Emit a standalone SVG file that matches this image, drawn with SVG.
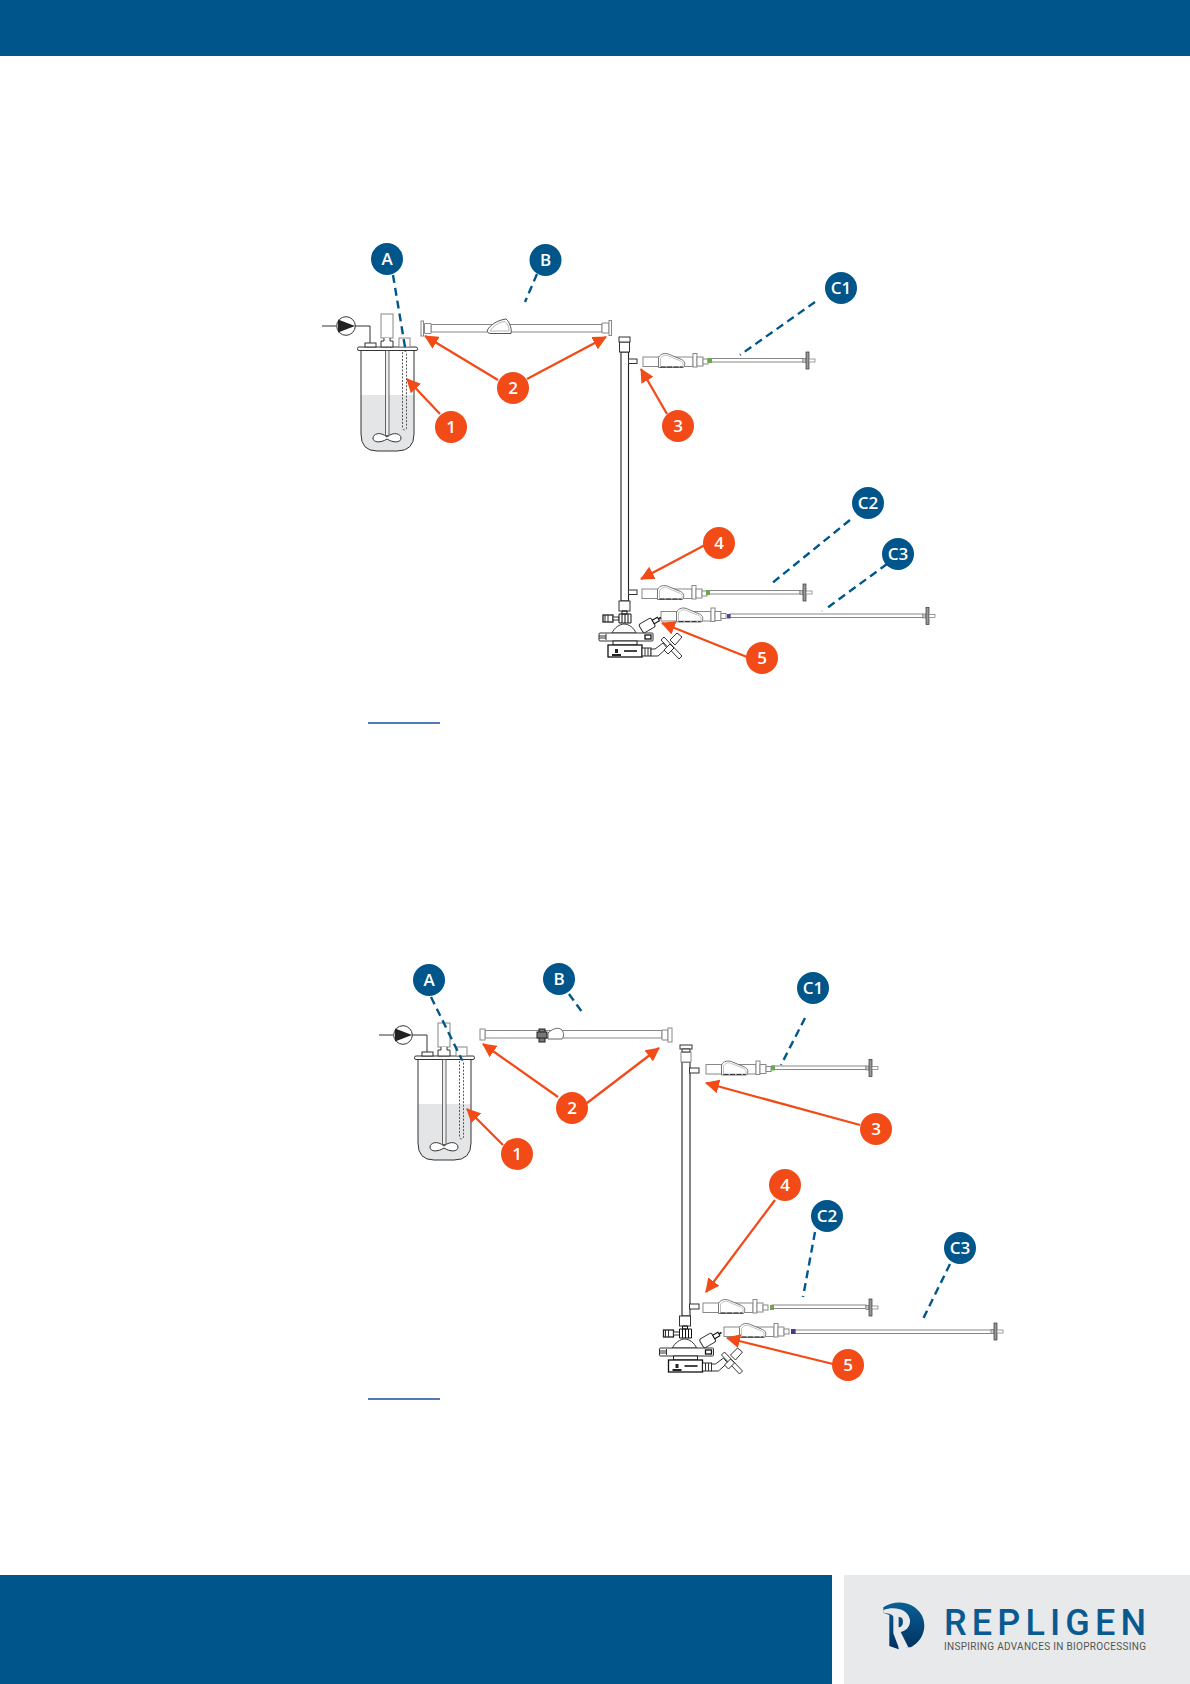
<svg xmlns="http://www.w3.org/2000/svg" width="1190" height="1684" viewBox="0 0 1190 1684">
<style>
.band{fill:#00558a}
.b text,.o text{font-family:"Open Sans","Liberation Sans",sans-serif;font-weight:600;fill:#fff;text-anchor:middle}
.b circle{fill:#00558a}
.o circle{fill:#f24b17}
.dash{fill:none;stroke:#00578a;stroke-width:2.400;stroke-dasharray:8 5}
.arr{fill:none;stroke:#f24b17;stroke-width:2.300;marker-end:url(#ah)}
.ln{fill:#fff;stroke:#333;stroke-width:1}
.lnn{fill:none;stroke:#333;stroke-width:1}
.lt{fill:#fff;stroke:#888;stroke-width:1}
.ltn{fill:none;stroke:#777;stroke-width:1}
.dk{fill:#222}
.ul{stroke:#1a4fa0;stroke-width:1.300}
</style>
<defs>
<marker id="ah" markerUnits="userSpaceOnUse" markerWidth="15" markerHeight="14" refX="13" refY="7" orient="auto"><path d="M0,0L14,7L0,14z" fill="#f24b17"/></marker>
<linearGradient id="lg" x1="0" y1="0" x2="0" y2="1"><stop offset="0" stop-color="#0a5f96"/><stop offset="1" stop-color="#00305f"/></linearGradient>
<g id="reactor">
<path d="M361,395H414V434Q414,451 397,451H377Q361,451 361,434Z" fill="#e4e5e6"/>
<path d="M361,349V434Q361,451 377,451H397Q414,451 414,434V349" class="lnn"/>
<rect x="357.500" y="347" width="60" height="3.500" rx="1.500" class="ln"/>
<rect x="365" y="343" width="11" height="4" class="ln"/>
<path d="M322,326H336M355,326H370V343" class="lnn"/>
<circle cx="346" cy="326" r="9.300" class="ln"/>
<path d="M338,319.500L355,326L338,332.500Z" class="dk"/>
<rect x="381" y="314" width="12" height="24" class="lt"/>
<path d="M384,338V341H381V347H393V341H390V338" class="ln"/>
<rect x="399" y="338" width="11" height="9" class="lt"/>
<rect x="385.500" y="350.500" width="3.500" height="85" fill="#eee" stroke="#444" stroke-width=".8"/>
<rect x="402.500" y="351" width="4" height="79" rx="2" fill="none" stroke="#444" stroke-width=".9" stroke-dasharray="2 1.500"/>
<path d="M387,437C380,431 373,434 373,438C373,443 381,443 387,439C393,443 401,443 401,438C401,434 394,431 387,437Z" class="ln" stroke-width=".8"/>
</g>
<g id="clampshape">
<path d="M0,6V-4C2,-8 7,-9 11,-7L23,-2C27,0 27,3 25,6Z" fill="#fff" stroke="#666" stroke-width=".9"/>
<path d="M2,5V-3C4,-6 7,-7 10,-5.500L22,-.5C25,1 25,3 24,5Z" fill="none" stroke="#999" stroke-width=".6"/>
<path d="M2,5.500H24" fill="none" stroke="#333" stroke-width="1" stroke-dasharray="5 1.500"/>
</g>
<g id="head">
<rect x="0" y="-4.500" width="50" height="9.500" class="lt"/>
<use href="#clampshape" x="15.500"/>
<rect x="50" y="-8" width="4" height="13.500" class="lt"/>
<rect x="54" y="-4.500" width="6" height="9" class="lt"/>
<rect x="60" y="-2.500" width="5" height="5" class="lt"/>
</g>
<g id="tip">
<rect x="-3" y="-2" width="3" height="4" fill="#ccc" stroke="#777" stroke-width=".7"/>
<rect x="0" y="-8.500" width="3" height="17" fill="#999" stroke="#333" stroke-width=".7"/>
<rect x="3" y="-1.500" width="6" height="3" fill="#fff" stroke="#777" stroke-width=".7"/>
</g>
<g id="base">
<rect x="619" y="601" width="11" height="10" class="ln"/>
<rect x="603" y="615" width="10" height="7" fill="#fff" stroke="#222" stroke-width="1.300"/>
<path d="M605,615v7M608,615v7" class="lnn"/>
<rect x="613" y="617" width="6" height="3" class="ln"/>
<path d="M619,614H631V623H619Z" fill="#fff" stroke="#111"/>
<path d="M622,611h5v3h-5zM622,614v9M625,614v9M628,614v9" fill="none" stroke="#111"/>
<path d="M612,633C614,628 620,624 624,624C629,624 634,628 636,633Z" class="ln"/>
<rect x="599" y="633" width="54" height="8" rx="1" class="ln"/>
<path d="M606,634v6M599,636h7M599,638h7" class="lnn"/>
<rect x="645" y="635" width="6" height="4" fill="#fff" stroke="#111" stroke-width="1.300"/>
<rect x="613" y="641" width="24" height="4" fill="#fff" stroke="#222"/>
<rect x="608" y="645" width="34" height="12" fill="#fff" stroke="#111" stroke-width="1.300"/>
<rect x="612" y="654" width="9" height="2" class="dk"/>
<rect x="615" y="649" width="3" height="4" class="dk"/>
<rect x="624" y="650" width="13" height="2" fill="#444"/>
<g transform="rotate(-30 648 625)">
<rect x="640" y="620" width="14" height="10" rx="2" class="ln"/>
<rect x="654" y="623" width="6" height="4" fill="#fff" stroke="#111"/>
<rect x="660" y="624" width="3" height="2" class="dk"/>
</g>
<rect x="642" y="648" width="9" height="8" fill="#fff" stroke="#222"/>
<path d="M645,648v8M648,648v8" class="lnn"/>
<path d="M651,649H655L663,643L667,648L658,656H651Z" class="ln"/>
<path d="M661,640L679,659L682,656L664,637Z" class="ln"/>
<path d="M664,650L670,644L674,648L668,654Z" class="ln"/>
<path d="M670,640L677,633L682,637L675,645Z" class="ln"/>
</g>
</defs>

<rect id="header" class="band" x="0" y="0" width="1190" height="56"/>
<rect id="footer" class="band" x="0" y="1575" width="832" height="109"/>

<g id="reactor-1"><use href="#reactor"/></g>
<g id="tube-b-1">
<rect x="431" y="324.500" width="171" height="7.500" class="lt"/>
<path d="M431,323.500H424.500V333.500H431Z" class="lt" stroke="#555"/>
<rect x="421" y="321" width="2.500" height="15" class="lt"/>
<path d="M602,323H609V333H602Z" class="lt"/>
<rect x="609" y="320.500" width="2.500" height="15" class="lt"/>
<path d="M487.500,330C490,325 498,320 506,319C510,322 512,330 511,333.500H491C488,333.500 487,332 487.500,330Z" fill="#fff" stroke="#555"/>
<path d="M490,331C493,326 499,322 505,321.500C508,324 509,328 509,331Z" fill="none" stroke="#999" stroke-width=".7"/>
</g>
<g id="column-1">
<rect x="621" y="352" width="7.500" height="249" fill="#fff" stroke="#222" stroke-width="1.100"/>
<rect x="619.500" y="342" width="10" height="10" class="ln"/>
<rect x="619" y="337" width="11" height="5" class="ln"/>
<rect x="628.500" y="359" width="8.500" height="4.500" class="ln"/>
<rect x="628.500" y="590" width="8.500" height="4.500" class="ln"/>
</g>
<g id="c1-1"><use href="#head" x="643" y="361.500"/><rect x="708" y="358.500" width="95" height="3.500" class="lt" stroke="#555"/><rect x="708" y="358" width="4" height="5" fill="#6ba84a"/><use href="#tip" x="806" y="360.500"/></g>
<g id="c2-1"><use href="#head" x="642" y="593.500"/><rect x="707" y="590.500" width="93" height="3.500" class="lt" stroke="#555"/><rect x="706" y="590" width="4" height="5" fill="#6ba84a"/><use href="#tip" x="803" y="592.500"/></g>
<g id="c3-1"><use href="#head" x="661" y="616"/><rect x="730" y="614" width="193" height="3.500" class="lt" stroke="#555"/><rect x="727" y="614" width="3.500" height="4.500" fill="#47479a"/><use href="#tip" x="926" y="616"/><circle cx="822" cy="611" r=".5" fill="#666"/></g>
<g id="base-1"><use href="#base"/></g>

<g id="reactor-2"><use href="#reactor" x="57" y="709"/></g>
<g id="tube-b-2">
<rect x="485" y="1030.500" width="177" height="7.500" class="lt"/>
<rect x="480" y="1029" width="5" height="11" class="lt"/>
<path d="M662,1030H668V1040H662Z" class="lt"/>
<rect x="668" y="1028" width="4" height="14" class="lt"/>
<path d="M548,1039V1033C553,1028 559,1027 562,1030C564,1033 564,1037 562,1039H550Z" fill="#fff" stroke="#666"/>
<rect x="539" y="1029" width="6" height="13" fill="#777" stroke="#222"/>
<rect x="537" y="1032" width="10" height="6" fill="#777" stroke="#222"/>
</g>
<g id="column-2">
<rect x="682" y="1062" width="8" height="254" fill="#fff" stroke="#222" stroke-width="1.100"/>
<rect x="681" y="1052" width="10" height="10" class="lt"/>
<rect x="680" y="1045" width="12" height="4" class="ln"/>
<path d="M682,1049h8v3h-8z" class="ln"/>
<rect x="689.500" y="1068" width="9.500" height="5" class="ln"/>
<rect x="689.500" y="1304" width="9.500" height="5" class="ln"/>
</g>
<g id="c1-2"><use href="#head" x="706" y="1069"/><rect x="772" y="1066" width="94" height="3.500" class="lt" stroke="#555"/><rect x="771" y="1065.500" width="4" height="5" fill="#6ba84a"/><use href="#tip" x="869" y="1068"/></g>
<g id="c2-2"><use href="#head" x="703" y="1307.500"/><rect x="772" y="1305" width="94" height="3.500" class="lt" stroke="#555"/><rect x="770" y="1305" width="4" height="5" fill="#6ba84a"/><use href="#tip" x="869" y="1307.500"/></g>
<g id="c3-2"><use href="#head" x="724" y="1331.500"/><rect x="795" y="1330" width="197" height="3.500" class="lt" stroke="#555"/><rect x="791" y="1329" width="4.500" height="5" fill="#3c3c92"/><use href="#tip" x="994" y="1331.500"/></g>
<g id="base-2"><use href="#base" x="60.500" y="715"/></g>

<g id="connectors">
<path class="dash" d="M393,275L405,347"/>
<path class="dash" d="M537,274L525,302"/>
<path class="dash" d="M815,302L740,355"/>
<path class="dash" d="M850,520L771,584"/>
<path class="dash" d="M887,564L827,608"/>
<path class="arr" d="M440,414L407,379"/>
<path class="arr" d="M498,380L425,336"/>
<path class="arr" d="M527,379L606,337"/>
<path class="arr" d="M667,414L641,369"/>
<path class="arr" d="M705,545L641,579"/>
<path class="arr" d="M747,657L662,623"/>
<path class="dash" d="M431,997L462,1060"/>
<path class="dash" d="M569,994L582,1012"/>
<path class="dash" d="M805,1018L781,1065"/>
<path class="dash" d="M815,1232L803,1297"/>
<path class="dash" d="M950,1264L922,1321"/>
<path class="arr" d="M503,1145L467,1109"/>
<path class="arr" d="M558,1097L483,1044"/>
<path class="arr" d="M587,1103L659,1048"/>
<path class="arr" d="M860,1125L706,1083"/>
<path class="arr" d="M775,1200L706,1292"/>
<path class="arr" d="M833,1364L727,1338"/>
</g>

<g id="A-1" class="b"><circle cx="387" cy="259" r="16"/><text x="387" y="265" font-size="17">A</text></g>
<g id="B-1" class="b"><circle cx="545.500" cy="260" r="16"/><text x="545.500" y="266" font-size="17">B</text></g>
<g id="C1-1" class="b"><circle cx="841" cy="288" r="16"/><text x="841" y="294" font-size="17">C1</text></g>
<g id="C2-1" class="b"><circle cx="868" cy="503" r="16"/><text x="868" y="509" font-size="17">C2</text></g>
<g id="C3-1" class="b"><circle cx="898" cy="554" r="16"/><text x="898" y="560" font-size="17">C3</text></g>
<g id="n1-1" class="o"><circle cx="451" cy="427" r="16"/><text x="451" y="433" font-size="17">1</text></g>
<g id="n2-1" class="o"><circle cx="513" cy="388" r="16"/><text x="513" y="394" font-size="17">2</text></g>
<g id="n3-1" class="o"><circle cx="678" cy="426" r="16"/><text x="678" y="432" font-size="17">3</text></g>
<g id="n4-1" class="o"><circle cx="719" cy="543" r="16"/><text x="719" y="549" font-size="17">4</text></g>
<g id="n5-1" class="o"><circle cx="762" cy="658" r="16"/><text x="762" y="664" font-size="17">5</text></g>

<g id="A-2" class="b"><circle cx="429" cy="980" r="16"/><text x="429" y="986" font-size="17">A</text></g>
<g id="B-2" class="b"><circle cx="559" cy="979" r="16"/><text x="559" y="985" font-size="17">B</text></g>
<g id="C1-2" class="b"><circle cx="813" cy="988" r="16"/><text x="813" y="994" font-size="17">C1</text></g>
<g id="C2-2" class="b"><circle cx="827" cy="1216" r="16"/><text x="827" y="1222" font-size="17">C2</text></g>
<g id="C3-2" class="b"><circle cx="960" cy="1248" r="16"/><text x="960" y="1254" font-size="17">C3</text></g>
<g id="n1-2" class="o"><circle cx="517" cy="1154" r="16"/><text x="517" y="1160" font-size="17">1</text></g>
<g id="n2-2" class="o"><circle cx="572" cy="1108" r="16"/><text x="572" y="1114" font-size="17">2</text></g>
<g id="n3-2" class="o"><circle cx="876" cy="1129" r="16"/><text x="876" y="1135" font-size="17">3</text></g>
<g id="n4-2" class="o"><circle cx="785" cy="1185" r="16"/><text x="785" y="1191" font-size="17">4</text></g>
<g id="n5-2" class="o"><circle cx="848" cy="1365" r="16"/><text x="848" y="1371" font-size="17">5</text></g>

<path class="ul" d="M368,723H440M368,1399H440"/>

<g id="logo">
<rect x="844" y="1575" width="346" height="109" fill="#e8e9ea"/>
<g transform="translate(840,1570) scale(.3333)">
<path d="M130,112C165,88 220,92 245,135C265,175 245,215 212,232L190,232L176,195V238L148,228V135L130,128Z" fill="url(#lg)"/>
<path d="M130,120C160,108 205,115 210,150C212,172 195,184 182,186L205,232L178,238L160,190V140C160,135 150,130 130,128Z M176,140V172C190,172 192,150 185,143Z" fill="#e8e9ea" fill-rule="evenodd"/>
</g>
<text x="944" y="1635" font-family="Roboto,Lato,sans-serif" font-weight="500" font-size="36" fill="#0a5a92" textLength="202" lengthAdjust="spacing">REPLIGEN</text>
<text x="944" y="1650" font-family="Roboto,Lato,sans-serif" font-size="10" fill="#555" textLength="202" lengthAdjust="spacing">INSPIRING ADVANCES IN BIOPROCESSING</text>
</g>
</svg>
